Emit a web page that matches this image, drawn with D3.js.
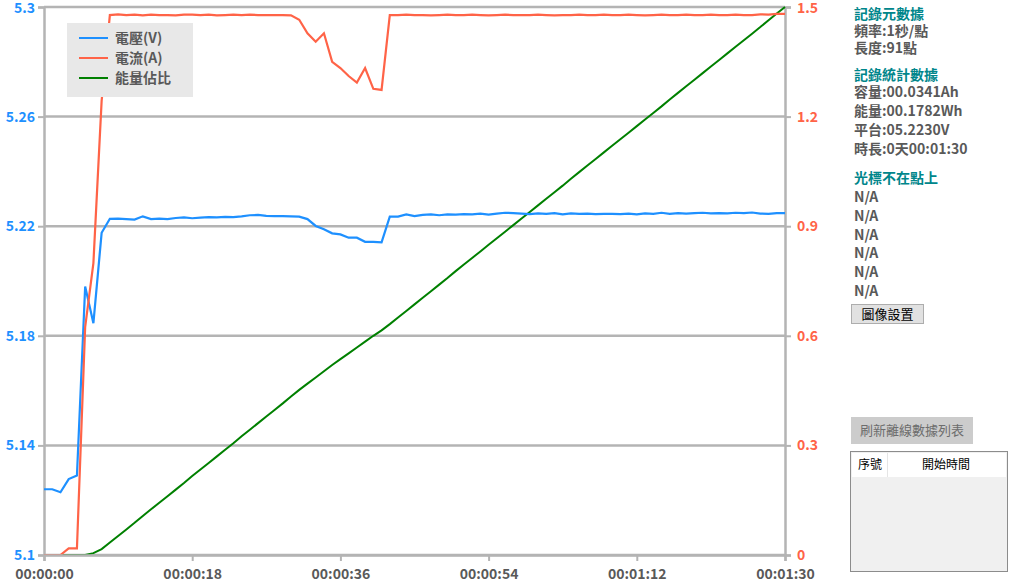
<!DOCTYPE html>
<html><head><meta charset="utf-8">
<script src="https://cdn.jsdelivr.net/npm/d3@7"></script>
<style>
html,body{margin:0;padding:0;background:#fff;}
svg{display:block;font-family:"Noto Sans CJK TC","Noto Sans",sans-serif;}
</style></head>
<body>
<svg id="c" width="1009" height="582"></svg>
<script>
// ---- data ----
const seconds = d3.range(91);
const voltage = [5.1240,5.1240,5.1229,5.1277,5.1290,5.1980,5.1846,5.2176,5.2227,5.2228,
5.2226,5.2224,5.2236,5.2226,5.2228,5.2226,5.2230,5.2232,5.2229,5.2231,
5.2233,5.2232,5.2234,5.2233,5.2236,5.2240,5.2241,5.2238,5.2237,5.2237,
5.2236,5.2235,5.2226,5.2201,5.2189,5.2174,5.2170,5.2158,5.2158,5.2143,
5.2143,5.2141,5.2235,5.2235,5.2243,5.2237,5.2241,5.2243,5.2240,5.2243,
5.2242,5.2244,5.2243,5.2246,5.2242,5.2246,5.2249,5.2248,5.2246,5.2244,
5.2247,5.2245,5.2248,5.2243,5.2247,5.2245,5.2246,5.2244,5.2245,5.2245,
5.2244,5.2246,5.2243,5.2247,5.2245,5.2249,5.2245,5.2248,5.2246,5.2248,
5.2249,5.2247,5.2248,5.2247,5.2249,5.2248,5.2250,5.2246,5.2245,5.2248,5.2248];
const current = [0,0,0,0.018,0.018,0.624,0.799,1.243,1.478,1.480,
1.478,1.479,1.477,1.479,1.478,1.478,1.477,1.479,1.479,1.478,
1.479,1.477,1.478,1.479,1.478,1.479,1.478,1.478,1.478,1.478,
1.477,1.465,1.428,1.405,1.428,1.350,1.333,1.311,1.293,1.333,
1.276,1.273,1.478,1.478,1.479,1.478,1.478,1.477,1.478,1.479,
1.478,1.478,1.479,1.478,1.477,1.478,1.479,1.478,1.478,1.478,
1.479,1.478,1.477,1.478,1.478,1.479,1.478,1.478,1.479,1.478,
1.478,1.479,1.478,1.477,1.478,1.479,1.478,1.478,1.479,1.478,
1.478,1.479,1.478,1.478,1.479,1.478,1.478,1.480,1.479,1.481,1.481];
const energyRatio = [0,0,0,0,0,0,0.005,0.016,0.034,0.052,
0.070,0.088,0.107,0.125,0.143,0.161,0.179,0.197,0.216,0.234,
0.252,0.270,0.288,0.306,0.325,0.343,0.361,0.379,0.397,0.415,
0.434,0.452,0.469,0.486,0.503,0.520,0.536,0.552,0.568,0.584,
0.600,0.615,0.632,0.650,0.668,0.686,0.704,0.722,0.740,0.758,
0.777,0.795,0.813,0.831,0.849,0.867,0.885,0.903,0.921,0.939,
0.957,0.975,0.993,1.011,1.030,1.048,1.066,1.084,1.102,1.120,
1.138,1.156,1.174,1.192,1.210,1.228,1.247,1.265,1.283,1.301,
1.319,1.337,1.355,1.373,1.391,1.409,1.427,1.445,1.464,1.482,1.500];
const vTicks = [5.1,5.14,5.18,5.22,5.26,5.3];
const vTickLabels = ["5.1","5.14","5.18","5.22","5.26","5.3"];
const iTicks = [0,0.3,0.6,0.9,1.2,1.5];
const iTickLabels = ["0","0.3","0.6","0.9","1.2","1.5"];
const xTicks = [0,18,36,54,72,90];
const xTickLabels = ["00:00:00","00:00:18","00:00:36","00:00:54","00:01:12","00:01:30"];
const legendNames = ["電壓(V)","電流(A)","能量佔比"];
const panelMeta = ["頻率:1秒/點","長度:91點"];
const panelStats = ["容量:00.0341Ah","能量:00.1782Wh","平台:05.2230V","時長:0天00:01:30"];
const cursorVals = ["N/A","N/A","N/A","N/A","N/A","N/A"];

// ---- chart ----
const svg = d3.select("#c");
const L=44,R=785,T=7,B=555;
const gridCol="#b4b4b4";
const cBlue="#1e90ff", cRed="#ff6347", cGreen="#008000", cText="#595959", cTeal="#00868b";
const x = d3.scaleLinear().domain([0,90]).range([L,R]);
const yV = d3.scaleLinear().domain([5.1,5.3]).range([B,T]);
const yI = d3.scaleLinear().domain([0,1.5]).range([B,T]);

// gridlines
svg.append("g").selectAll("line").data(vTicks).join("line")
  .attr("x1",L).attr("x2",R).attr("y1",d=>yV(d)).attr("y2",d=>yV(d))
  .attr("stroke",gridCol).attr("stroke-width",2.5);

// left axis
const gl = svg.append("g").attr("transform",`translate(${L},0)`)
  .call(d3.axisLeft(yV).tickValues(vTicks).tickSize(6).tickPadding(3)
    .tickFormat((d,i)=>vTickLabels[i]));
gl.select(".domain").attr("stroke",gridCol).attr("stroke-width",2.5);
gl.selectAll(".tick line").attr("stroke",gridCol).attr("stroke-width",2);
gl.selectAll(".tick text").attr("fill",cBlue).attr("font-size",14).attr("font-weight","bold")
  .attr("dy",(d,i)=>i===vTicks.length-1?"0.42em":"0.32em")
  .attr("font-family","'Noto Sans CJK TC','Noto Sans',sans-serif");

// right axis
const gr = svg.append("g").attr("transform",`translate(${R},0)`)
  .call(d3.axisRight(yI).tickValues(iTicks).tickSize(6).tickPadding(6)
    .tickFormat((d,i)=>iTickLabels[i]));
gr.select(".domain").attr("stroke",gridCol).attr("stroke-width",2.5);
gr.selectAll(".tick line").attr("stroke",gridCol).attr("stroke-width",2);
gr.selectAll(".tick text").attr("fill",cRed).attr("font-size",14).attr("font-weight","bold")
  .attr("dy",(d,i)=>i===iTicks.length-1?"0.42em":"0.32em")
  .attr("font-family","'Noto Sans CJK TC','Noto Sans',sans-serif");

// series
const lineV = d3.line().x((d,i)=>x(seconds[i])).y(d=>yV(d));
const lineI = d3.line().x((d,i)=>x(seconds[i])).y(d=>yI(d));
svg.append("path").datum(energyRatio).attr("d",lineI).attr("fill","none").attr("stroke",cGreen).attr("stroke-width",2);
svg.append("path").datum(voltage).attr("d",lineV).attr("fill","none").attr("stroke",cBlue).attr("stroke-width",2.2);
svg.append("path").datum(current).attr("d",lineI).attr("fill","none").attr("stroke",cRed).attr("stroke-width",2.2);

// bottom axis (drawn over series)
const gb = svg.append("g").attr("transform",`translate(0,${B})`)
  .call(d3.axisBottom(x).tickValues(xTicks).tickSize(6).tickPadding(8)
    .tickFormat((d,i)=>xTickLabels[i]));
gb.select(".domain").attr("stroke",gridCol).attr("stroke-width",2.5);
gb.selectAll(".tick line").attr("stroke",gridCol).attr("stroke-width",2);
gb.selectAll(".tick text").attr("fill",cText).attr("font-size",14).attr("font-weight","bold")
  .attr("font-family","'Noto Sans CJK TC','Noto Sans',sans-serif");

// legend
const lg = svg.append("g");
lg.append("rect").attr("x",67).attr("y",23).attr("width",126).attr("height",74).attr("fill","#e8e8e8");
const legCols=[cBlue,cRed,cGreen];
legendNames.forEach((n,i)=>{
  const yy=38+i*20;
  lg.append("line").attr("x1",79).attr("x2",108).attr("y1",yy).attr("y2",yy)
    .attr("stroke",legCols[i]).attr("stroke-width",2);
  lg.append("text").attr("x",115).attr("y",yy).attr("dy","0.35em").text(n)
    .attr("fill",cText).attr("font-size",14).attr("font-weight","bold");
});

// right panel
const px=854;
const p = svg.append("g").attr("font-size",14).attr("font-weight","bold");
p.append("text").attr("x",px).attr("y",19).text("記錄元數據").attr("fill",cTeal);
panelMeta.forEach((t,i)=>p.append("text").attr("x",px).attr("y",36+i*17).text(t).attr("fill",cText));
p.append("text").attr("x",px).attr("y",80).text("記錄統計數據").attr("fill",cTeal);
panelStats.forEach((t,i)=>p.append("text").attr("x",px).attr("y",97+i*19).text(t).attr("fill",cText));
p.append("text").attr("x",px).attr("y",183).text("光標不在點上").attr("fill",cTeal);
cursorVals.forEach((t,i)=>p.append("text").attr("x",px).attr("y",202+i*18.8).text(t).attr("fill",cText));

// buttons
svg.append("rect").attr("x",851.5).attr("y",304.5).attr("width",72).attr("height",19)
  .attr("fill","#e1e1e1").attr("stroke","#adadad");
svg.append("text").attr("x",887.5).attr("y",314).attr("dy","0.35em").attr("text-anchor","middle")
  .attr("font-size",13).attr("fill","#000").text("圖像設置");
svg.append("rect").attr("x",851).attr("y",417).attr("width",122).attr("height",27).attr("fill","#cccccc");
svg.append("text").attr("x",912).attr("y",430.5).attr("dy","0.35em").attr("text-anchor","middle")
  .attr("font-size",13).attr("fill","#6d6d6d").text("刷新離線數據列表");

// table
svg.append("rect").attr("x",850.5).attr("y",451.5).attr("width",157).attr("height",120)
  .attr("fill","#f0f0f0").attr("stroke","#8c8c8c");
svg.append("rect").attr("x",852).attr("y",453).attr("width",154).attr("height",24).attr("fill","#fff");
svg.append("line").attr("x1",887.5).attr("x2",887.5).attr("y1",453).attr("y2",477).attr("stroke","#e5e5e5");
svg.append("text").attr("x",870).attr("y",465).attr("dy","0.35em").attr("text-anchor","middle")
  .attr("font-size",12).attr("fill","#000").text("序號");
svg.append("text").attr("x",946).attr("y",465).attr("dy","0.35em").attr("text-anchor","middle")
  .attr("font-size",12).attr("fill","#000").text("開始時間");
</script>
</body></html>
